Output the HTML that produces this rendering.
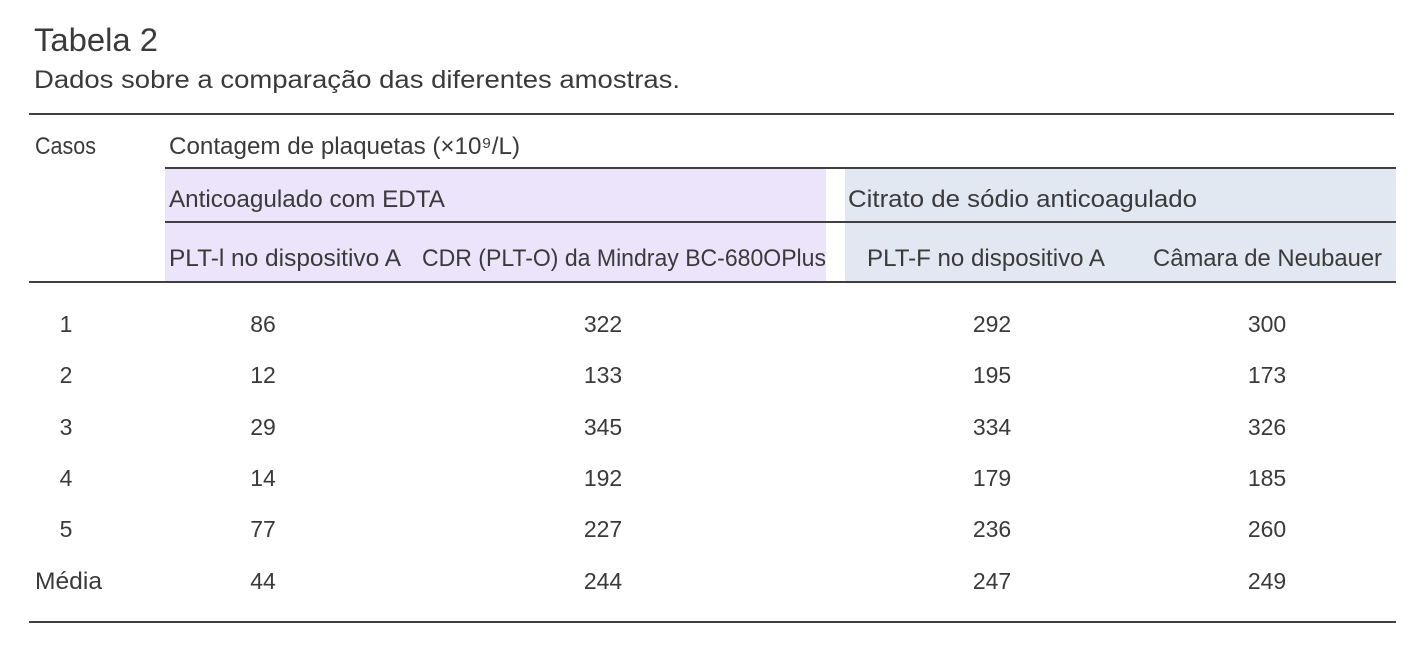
<!DOCTYPE html>
<html><head><meta charset="utf-8"><style>
html,body{margin:0;padding:0;background:#fff;}
svg text{font-family:"Liberation Sans",sans-serif;fill:#3a3a3a;}
</style></head><body>
<svg width="1416" height="659" xmlns="http://www.w3.org/2000/svg">
<rect x="165" y="168" width="661" height="114" fill="#ebe4fb"/>
<rect x="845" y="168" width="551" height="114" fill="#e1e8f2"/>
<g stroke="#404040" stroke-width="2">
<line x1="29" y1="114" x2="1394" y2="114"/>
<line x1="165" y1="168" x2="1396" y2="168"/>
<line x1="165" y1="222" x2="1396" y2="222"/>
<line x1="29" y1="282" x2="1396" y2="282"/>
<line x1="29" y1="622" x2="1396" y2="622"/>
</g>
<text x="34" y="51" font-size="32" textLength="124" lengthAdjust="spacingAndGlyphs">Tabela 2</text>
<text x="34" y="88" font-size="25" textLength="646" lengthAdjust="spacingAndGlyphs">Dados sobre a comparação das diferentes amostras.</text>
<g font-size="24">
<text x="35" y="154" textLength="61" lengthAdjust="spacingAndGlyphs">Casos</text>
<text x="169" y="154" textLength="351" lengthAdjust="spacingAndGlyphs">Contagem de plaquetas (×10⁹/L)</text>
<text x="169" y="207" textLength="276" lengthAdjust="spacingAndGlyphs">Anticoagulado com EDTA</text>
<text x="848" y="207" textLength="349" lengthAdjust="spacingAndGlyphs">Citrato de sódio anticoagulado</text>
<text x="169" y="266" textLength="232" lengthAdjust="spacingAndGlyphs">PLT-l no dispositivo A</text>
<text x="422" y="266" textLength="404" lengthAdjust="spacingAndGlyphs">CDR (PLT-O) da Mindray BC-680OPlus</text>
<text x="867" y="266" textLength="238" lengthAdjust="spacingAndGlyphs">PLT-F no dispositivo A</text>
<text x="1153" y="266" textLength="229" lengthAdjust="spacingAndGlyphs">Câmara de Neubauer</text>
</g>
<g font-size="23" text-anchor="middle">
<text x="66" y="332">1</text><text x="263" y="332">86</text><text x="603" y="332">322</text><text x="992" y="332">292</text><text x="1267" y="332">300</text>
<text x="66" y="383">2</text><text x="263" y="383">12</text><text x="603" y="383">133</text><text x="992" y="383">195</text><text x="1267" y="383">173</text>
<text x="66" y="435">3</text><text x="263" y="435">29</text><text x="603" y="435">345</text><text x="992" y="435">334</text><text x="1267" y="435">326</text>
<text x="66" y="486">4</text><text x="263" y="486">14</text><text x="603" y="486">192</text><text x="992" y="486">179</text><text x="1267" y="486">185</text>
<text x="66" y="537">5</text><text x="263" y="537">77</text><text x="603" y="537">227</text><text x="992" y="537">236</text><text x="1267" y="537">260</text>
<text x="263" y="589">44</text><text x="603" y="589">244</text><text x="992" y="589">247</text><text x="1267" y="589">249</text>
</g>
<text x="35" y="589" font-size="24" textLength="67" lengthAdjust="spacingAndGlyphs">Média</text>
</svg>
</body></html>
